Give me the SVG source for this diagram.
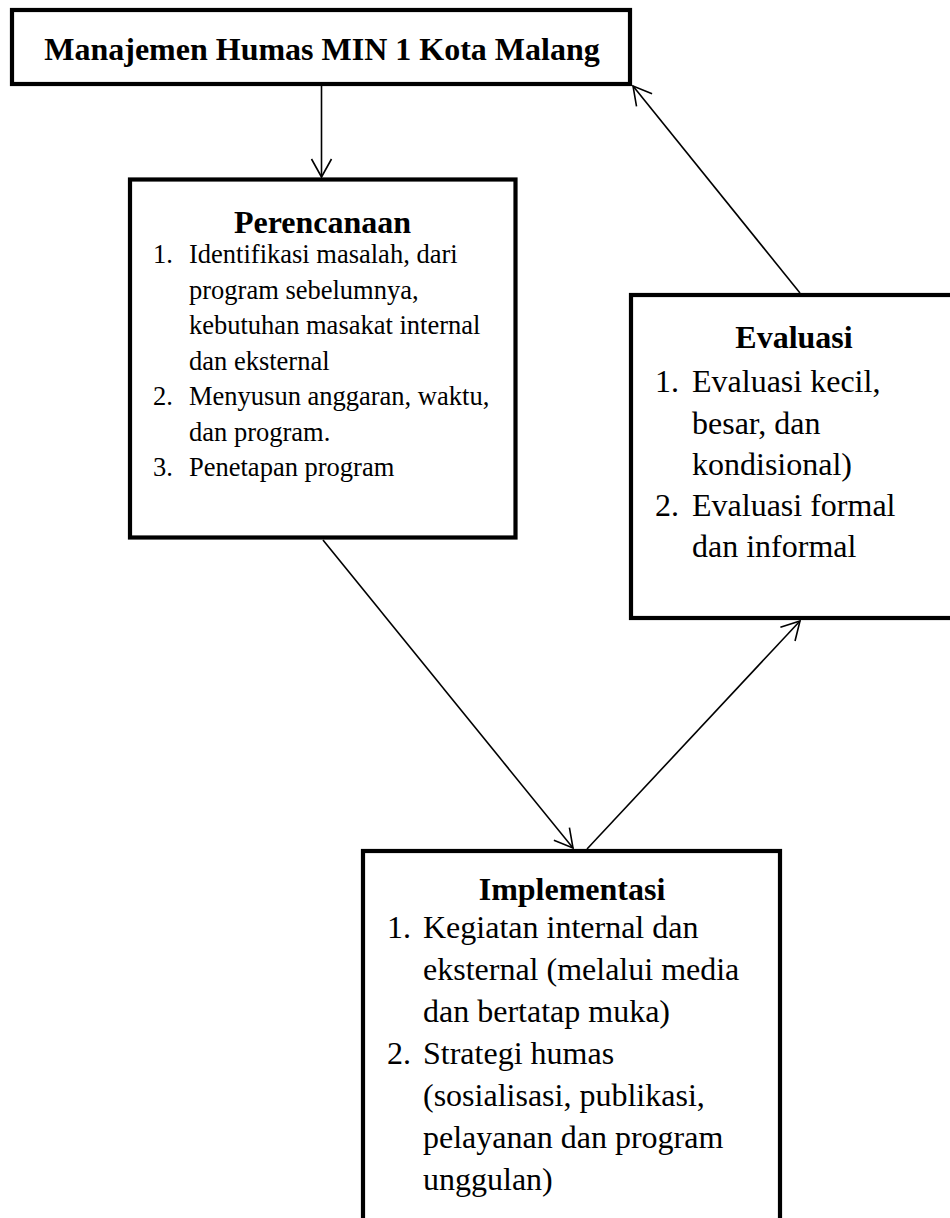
<svg xmlns="http://www.w3.org/2000/svg" width="950" height="1218" viewBox="0 0 950 1218">
<style>
.box{fill:#fff;stroke:#000;stroke-width:4.2;stroke-linejoin:miter}
.con{stroke:#000;stroke-width:1.6;fill:none}
text{font-family:"Liberation Serif","Times New Roman",serif;fill:#000}
.h{font-weight:bold;font-size:32px;text-anchor:middle}
.b32{font-size:32px}
.b26{font-size:26.5px}
</style>
<defs>
<marker id="arr" markerUnits="userSpaceOnUse" markerWidth="40" markerHeight="40" refX="0" refY="0" orient="auto" viewBox="-20 -20 40 40" overflow="visible">
<path d="M-18,-10 L0,0 L-18,10" fill="none" stroke="#000" stroke-width="1.6"/>
</marker>
</defs>
<rect width="950" height="1218" fill="#fff"/>
<g id="connectors">
<line class="con" x1="321.5" y1="85" x2="321.5" y2="177" marker-end="url(#arr)"/>
<line class="con" x1="323" y1="540" x2="573" y2="848" marker-end="url(#arr)"/>
<line class="con" x1="587" y1="849" x2="800" y2="621" marker-end="url(#arr)"/>
<line class="con" x1="800" y1="293" x2="633" y2="86" marker-end="url(#arr)"/>
</g>
<g id="node-manajemen">
<rect class="box" x="12" y="10" width="618" height="74"/>
<text class="h" x="322" y="60">Manajemen Humas MIN 1 Kota Malang</text>
</g>
<g id="node-perencanaan">
<rect class="box" x="130" y="179.5" width="385.5" height="358"/>
<text class="h" x="322.5" y="233">Perencanaan</text>
<text class="b26">
<tspan x="153" y="263">1.</tspan><tspan x="189" y="263">Identifikasi masalah, dari</tspan>
<tspan x="189" y="298.5">program sebelumnya,</tspan>
<tspan x="189" y="334">kebutuhan masakat internal</tspan>
<tspan x="189" y="369.5">dan eksternal</tspan>
<tspan x="153" y="405">2.</tspan><tspan x="189" y="405">Menyusun anggaran, waktu,</tspan>
<tspan x="189" y="440.5">dan program.</tspan>
<tspan x="153" y="476">3.</tspan><tspan x="189" y="476">Penetapan program</tspan>
</text>
</g>
<g id="node-evaluasi">
<rect class="box" x="631" y="295" width="330" height="323"/>
<text class="h" x="794" y="348">Evaluasi</text>
<text class="b32">
<tspan x="655" y="392">1.</tspan><tspan x="692" y="392">Evaluasi kecil,</tspan>
<tspan x="692" y="433.5">besar, dan</tspan>
<tspan x="692" y="475">kondisional)</tspan>
<tspan x="655" y="516">2.</tspan><tspan x="692" y="516">Evaluasi formal</tspan>
<tspan x="692" y="557">dan informal</tspan>
</text>
</g>
<g id="node-implementasi">
<rect class="box" x="363" y="851" width="417" height="400"/>
<text class="h" x="572" y="900">Implementasi</text>
<text class="b32">
<tspan x="387" y="938">1.</tspan><tspan x="423" y="938">Kegiatan internal dan</tspan>
<tspan x="423" y="980">eksternal (melalui media</tspan>
<tspan x="423" y="1022">dan bertatap muka)</tspan>
<tspan x="387" y="1064">2.</tspan><tspan x="423" y="1064">Strategi humas</tspan>
<tspan x="423" y="1106">(sosialisasi, publikasi,</tspan>
<tspan x="423" y="1148">pelayanan dan program</tspan>
<tspan x="423" y="1190">unggulan)</tspan>
</text>
</g>
</svg>
